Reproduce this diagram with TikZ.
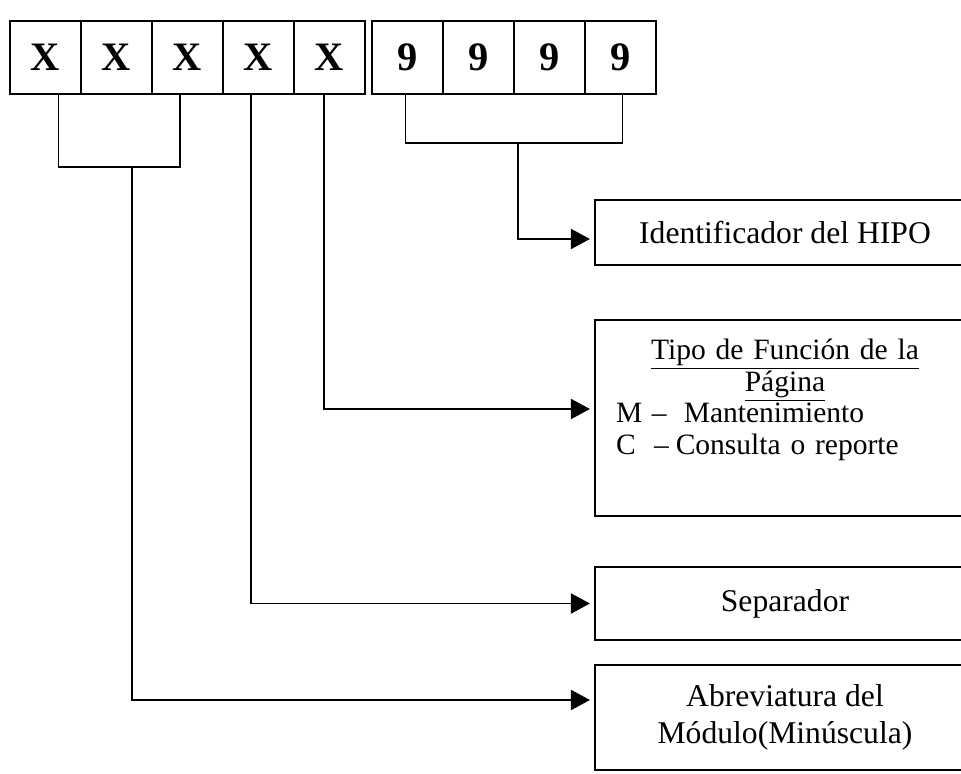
\documentclass[tikz,border=0pt]{standalone}
\usepackage{fontspec}
\setmainfont{Liberation Serif}
\usetikzlibrary{arrows.meta,calc}

\begin{document}
\begin{tikzpicture}[
  x=1cm,
  y=1cm,
  line width=1.1pt,
  >={Triangle[length=0.38cm,width=0.4cm]},
  cell/.style={draw, line width=1.3pt, minimum width=1.42cm, minimum height=1.46cm,
    inner sep=0pt, font=\fontsize{23}{27}\selectfont\bfseries},
  info/.style={draw, line width=1.2pt, minimum width=7.6cm, inner sep=0pt,
    align=center, font=\fontsize{18}{21}\selectfont},
  link/.style={->, shorten >=0.08cm},
]
  % page frame (the boxes on the right run off the edge)
  \clip (0,0) rectangle (19.22,-15.48);

  \def\yCell{-1.15}
  \def\xInfo{15.7}

  % code: five letters, then four digits
  \foreach \i in {1,...,5}
    \node[cell] (x\i) at ({0.91+1.42*(\i-1)},\yCell) {X};
  \foreach \i in {1,...,4}
    \node[cell] (n\i) at ({8.15+1.42*(\i-1)},\yCell) {9};

  % meaning of each part
  \node[info, minimum height=1.3cm] (ident) at (\xInfo,-4.65) {Identificador del HIPO};
  \node[info, minimum height=3.92cm, text width=6.76cm, inner xsep=0.42cm, align=left,
    font=\fontsize{16.8}{18}\selectfont] (tipo) at (\xInfo,-8.36) {%
    {\centering\underline{Tipo de Función de la}\\ \underline{Página}\par}
    \makebox[0.72cm][l]{M}--\hspace{0.34cm}Mantenimiento\\
    \makebox[0.76cm][l]{C}--\hspace{0.14cm}Consulta o reporte\rule[-0.85cm]{0pt}{0pt}};
  \node[info, minimum height=1.46cm] (sep) at (\xInfo,-12.07) {Separador};
  \node[info, minimum height=2.1cm] (abrev) at (\xInfo,-14.35) {Abreviatura del\\ Módulo(Minúscula)};

  % brackets
  \coordinate (xb) at (2.64,-3.34);
  \coordinate (nb) at (10.36,-2.86);
  \draw ([xshift=0.26cm]x1.south) |- (xb) -| ([xshift=-0.15cm]x3.south);
  \draw ([xshift=-0.04cm]n1.south) |- (nb) -| ([xshift=0.04cm]n4.south);

  % connectors
  \draw[link] (nb) |- ([yshift=-0.13cm]ident.west);
  \draw[link] ([xshift=-0.11cm]x5.south) |- ([yshift=0.18cm]tipo.west);
  \draw[link] ([xshift=-0.15cm]x4.south) |- (sep.west);
  \draw[link] (xb) |- ([yshift=0.35cm]abrev.west);
\end{tikzpicture}
\end{document}
